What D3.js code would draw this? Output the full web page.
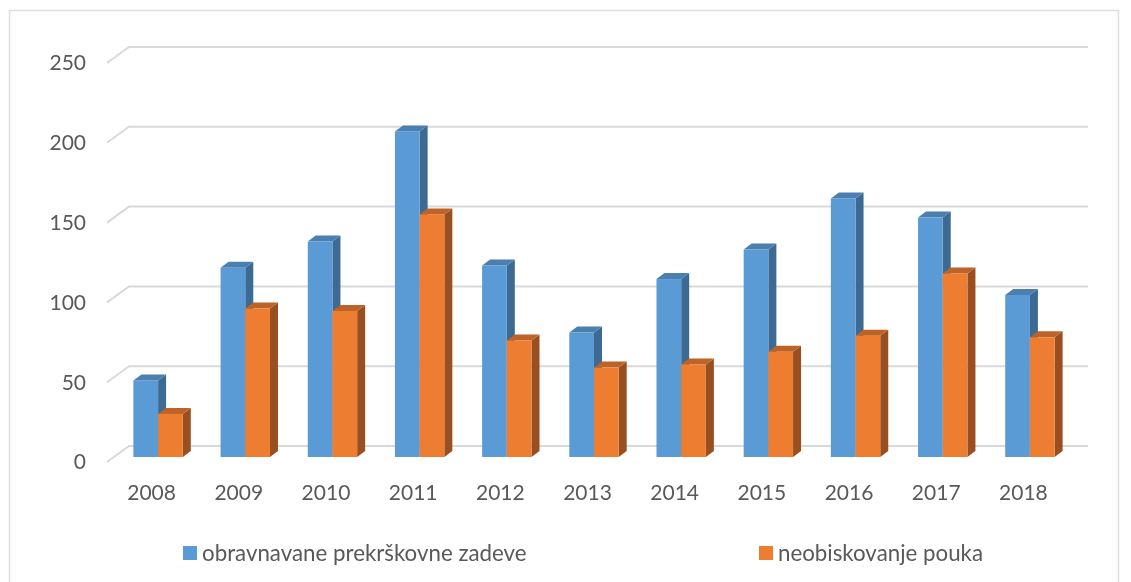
<!DOCTYPE html>
<html>
<head>
<meta charset="utf-8">
<script src="https://cdn.jsdelivr.net/npm/d3@7"></script>
<style>
body { margin: 0; background: #fff; }
svg { display: block; filter: blur(0.35px); }
text { font-family: Lato, "Open Sans", sans-serif; fill: #595959; }
</style>
</head>
<body>
<div id="my_dataviz"></div>
<script>
const years = ["2008","2009","2010","2011","2012","2013","2014","2015","2016","2017","2018"];
const cases = [48,118.5,135,204,120,78,111.5,130,162,150,101.5];
const absences = [27,93,91.5,152,73,56,58,66,76,115,75];
const seriesNames = ["obravnavane prekrškovne zadeve","neobiskovanje pouka"];
const yTicks = [0,50,100,150,200,250];

const width = 1131, height = 582;
// floor of the 3d box: wall sits up and right of the front plane
const wallDx = 22, wallDy = -16;
// bars stand a little inside the box
const barDx = 7.5, barDy = -5, sideDx = 8, sideDy = -6;

const svg = d3.select("#my_dataviz")
  .append("svg")
  .attr("width", width)
  .attr("height", height);

// outer frame, bottom is cut off by the picture
svg.append("path")
  .attr("d", "M9.5,582V10.5H1118.5V582")
  .attr("fill", "none")
  .attr("stroke", "#dedede")
  .attr("stroke-width", 1.5);

const x = d3.scaleBand().domain(years).range([107, 1066]);
const y = d3.scaleLinear().domain([0, 250]).range([462, 63]);

// gridlines on the wall and the floor
const grid = svg.append("g")
  .attr("fill", "none")
  .attr("stroke", "#d9d9d9")
  .attr("stroke-width", 2);
grid.selectAll("path")
  .data(yTicks)
  .join("path")
  .attr("d", d => `M${x.range()[0]},${y(d)}l${wallDx},${wallDy}H${x.range()[1] + wallDx}`);

// axes
svg.append("g")
  .attr("transform", "translate(92,0)")
  .style("font-size", "21px")
  .call(d3.axisLeft(y).tickValues(yTicks).tickSize(0).tickPadding(6))
  .call(g => g.select(".domain").remove())
  .selectAll("text")
  .attr("dy", "0.33em")
  .style("font-family", "Lato, sans-serif");

svg.append("g")
  .attr("transform", "translate(1,462)")
  .style("font-size", "21px")
  .call(d3.axisBottom(x).tickSize(0).tickPadding(23))
  .call(g => g.select(".domain").remove())
  .selectAll("text")
  .style("font-family", "Lato, sans-serif");

const barW = 24.7;
const series = [
  {values: cases, front: "#5b9bd5", top: "#4a7fb0", side: "#3d6a93", off: 0},
  {values: absences, front: "#ed7d31", top: "#bd6327", side: "#994f1f", off: 1}
];

// each series drawn back to front so the orange sits over the blue side
series.forEach(s => {
  const g = svg.append("g");
  const x0 = (d, i) => x(years[i]) + x.bandwidth() / 2 + barDx - barW + s.off * barW;
  const y0 = d => y(d) + barDy;
  const base = y(0) + barDy;

  g.selectAll(".side")
    .data(s.values)
    .join("path")
    .attr("fill", s.side)
    .attr("d", (d, i) => {
      const r = x0(d, i) + barW;
      return `M${r},${y0(d)}l${sideDx},${sideDy}V${base + sideDy}l${-sideDx},${-sideDy}Z`;
    });

  g.selectAll(".top")
    .data(s.values)
    .join("path")
    .attr("fill", s.top)
    .attr("d", (d, i) => {
      const l = x0(d, i);
      return `M${l},${y0(d)}l${sideDx},${sideDy}h${barW}l${-sideDx},${-sideDy}Z`;
    });

  g.selectAll(".front")
    .data(s.values)
    .join("rect")
    .attr("fill", s.front)
    .attr("x", x0)
    .attr("y", y0)
    .attr("width", barW)
    .attr("height", d => base - y0(d));
});

// legend
const legendX = [183, 759];
const legend = svg.selectAll(".legend")
  .data(seriesNames)
  .join("g")
  .attr("transform", (d, i) => `translate(${legendX[i]},546)`);
legend.append("rect")
  .attr("width", 14)
  .attr("height", 14)
  .attr("fill", (d, i) => series[i].front);
legend.append("text")
  .attr("x", 19)
  .attr("y", 15)
  .style("font-size", "22.3px")
  .text(d => d);
</script>
</body>
</html>
